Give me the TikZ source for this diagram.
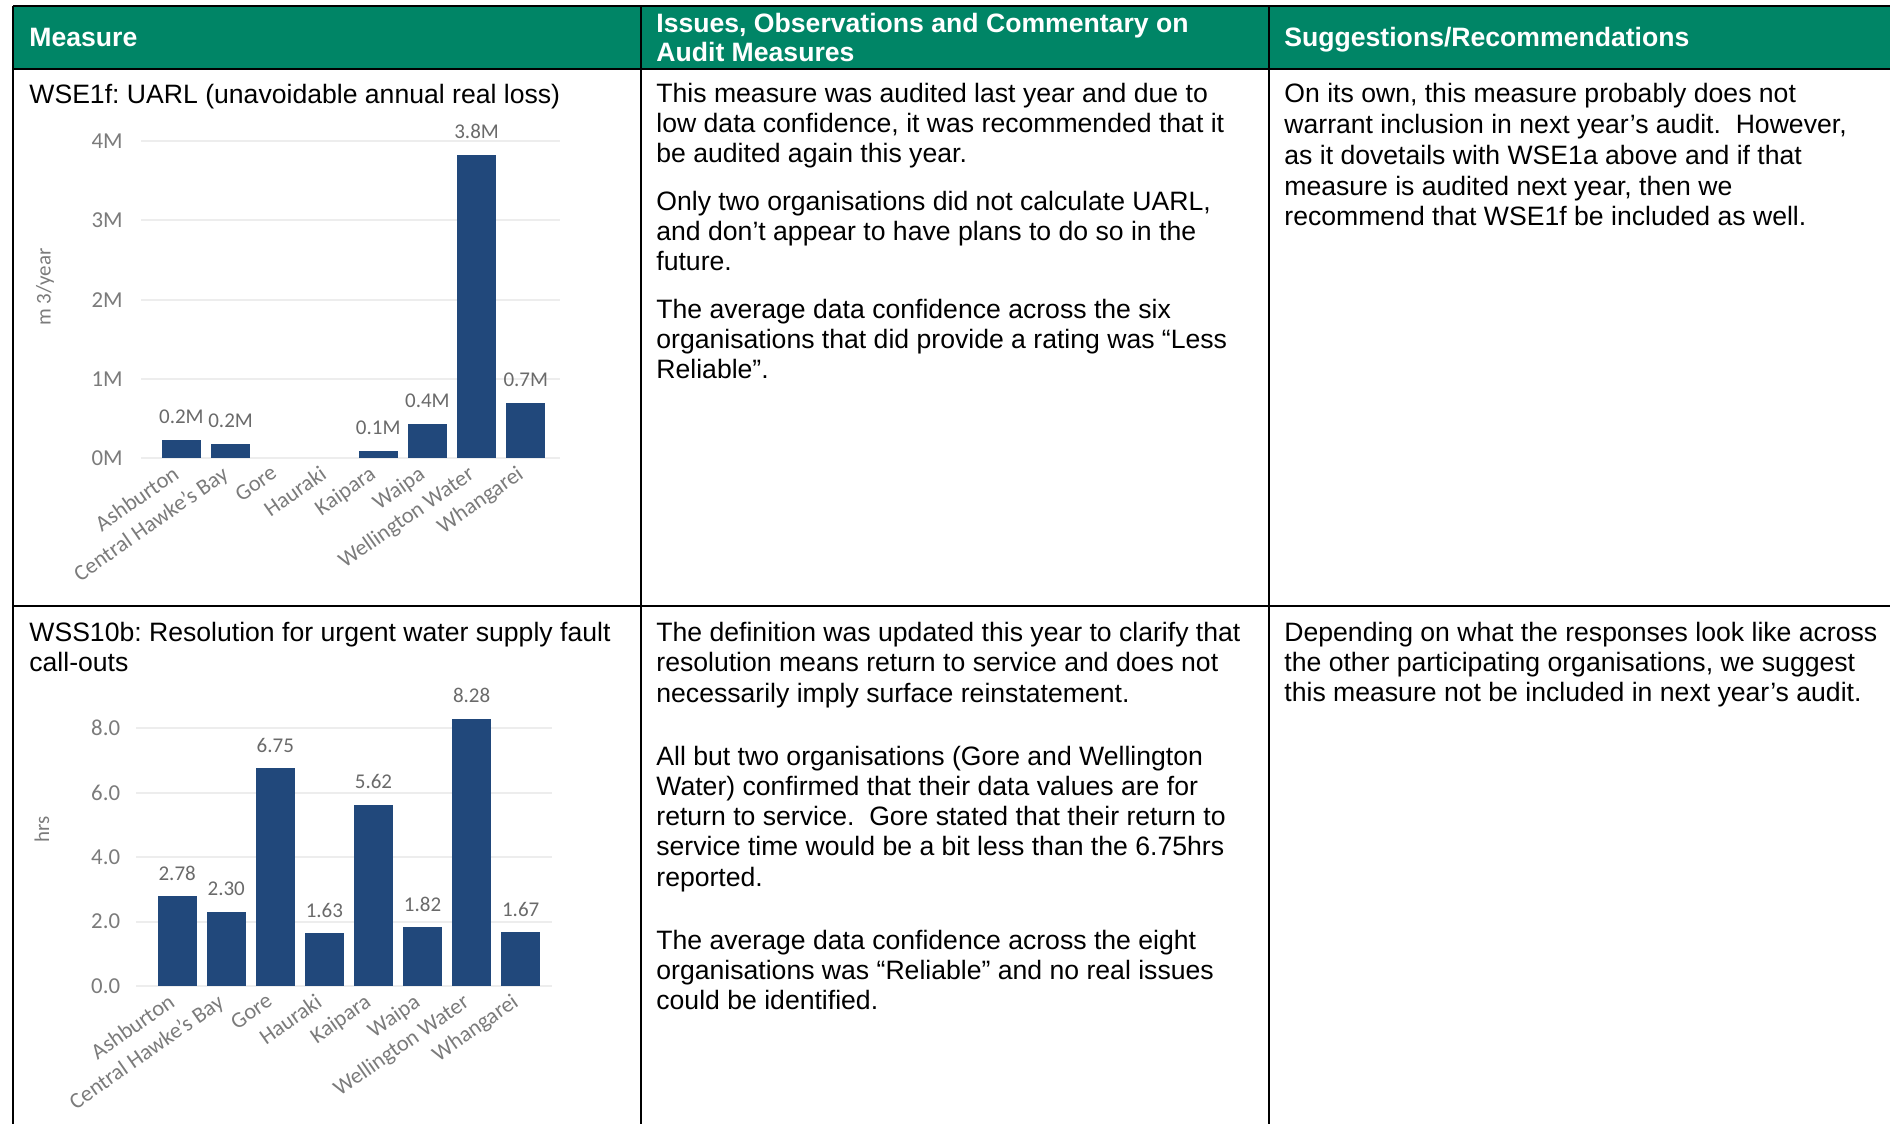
\documentclass[tikz,border=0pt]{standalone}
\usepackage{fontspec}
\setmainfont{Liberation Sans}
\newfontfamily\chartfont{Carlito}
\definecolor{headgreen}{HTML}{008566}
\definecolor{barblue}{HTML}{21487B}
\definecolor{gridgrey}{HTML}{EDEDED}
\definecolor{axisgrey}{HTML}{7B7B7B}
\definecolor{labgrey}{HTML}{6A6A6A}
\newcommand{\bodysize}{\fontsize{13.3}{15}\selectfont}
\newcommand{\topstrut}{\rule{0pt}{11pt}}
\frenchspacing
\tikzset{
  rule/.style={line width=1.2pt},
  headtext/.style={anchor=north west, align=left, inner sep=0pt, text=white,
    font=\bfseries\fontsize{13.3}{14.5}\selectfont, execute at begin node=\topstrut},
  celltext/.style={anchor=north west, align=left, inner sep=0pt,
    font=\bodysize, execute at begin node=\topstrut},
  bar/.style={fill=barblue},
  gridline/.style={draw=gridgrey, line width=1pt},
  ticklabel/.style={anchor=east, inner sep=0pt, text=axisgrey,
    font=\chartfont\fontsize{11.4}{12}\selectfont},
  valuelabel/.style={anchor=base, inner sep=0pt, text=labgrey,
    font=\chartfont\fontsize{10.5}{12}\selectfont},
  catlabel/.style={anchor=north east, rotate=35, inner sep=0pt, text=axisgrey,
    font=\chartfont\fontsize{11.2}{12}\selectfont},
  axistitle/.style={rotate=90, inner sep=0pt, text=axisgrey,
    font=\chartfont\fontsize{10.5}{12}\selectfont}
}
\begin{document}
\begin{tikzpicture}[x=0.5pt, y=-0.5pt]
\useasboundingbox (0,0) rectangle (1890,1124);
% table frame
\fill[headgreen] (13,6) rectangle (1890,69);
\draw[rule] (13,6) -- (1890,6);
\draw[rule] (13,69) -- (1890,69);
\draw[rule] (13,606) -- (1890,606);
\foreach \x in {13,641,1269}
    \draw[rule] (\x,6) -- (\x,1124);

\node[headtext] (hmeasure) at (29,24) {Measure};
\node[headtext] (hissues) at (656,13) {Issues, Observations and Commentary on\\Audit Measures};
\node[headtext] (hsuggest) at (1284,24) {Suggestions/Recommendations};

% row 1
\node[celltext] (uarltitle) at (29,81) {WSE1f: UARL (unavoidable annual real loss)};
\node[celltext] (uarlissues) at (656,83) {This measure was audited last year and due to\\
    low data confidence, it was recommended that it\\
    be audited again this year.\\[9pt]
    Only two organisations did not calculate UARL,\\
    and don’t appear to have plans to do so in the\\
    future.\\[9pt]
    The average data confidence across the six\\
    organisations that did provide a rating was “Less\\
    Reliable”.};
\node[celltext, font=\fontsize{13.3}{15.4}\selectfont] (uarlsuggest) at (1284,83) {On its own, this measure probably does not\\
    warrant inclusion in next year’s audit.\ \ However,\\
    as it dovetails with WSE1a above and if that\\
    measure is audited next year, then we\\
    recommend that WSE1f be included as well.};

% chart: UARL
\foreach \k in {0,...,4} {
    \draw[gridline] (141,{458-79.2*\k}) -- (560,{458-79.2*\k});
    \node[ticklabel] (uarltick\k) at (123,{458-79.2*\k}) {\k M};
}
\node[axistitle] (uarlaxis) at (45,287) {m 3/year};
\foreach \name/\val/\lab [count=\i from 0] in {Ashburton/0.23/0.2M, Central Hawke’s Bay/0.18/0.2M,
    Gore/0/{}, Hauraki/0/{}, Kaipara/0.09/0.1M, Waipa/0.43/0.4M,
    Wellington Water/3.83/3.8M, Whangarei/0.70/0.7M} {
    \pgfmathparse{\val>0 ? 1 : 0}
    \ifnum\pgfmathresult=1
        \fill[bar] ({181.4+49.2*\i-19.5},458) rectangle ++(39,{-79.2*\val});
    \fi
    \node[valuelabel] (uarlval\i) at ({181.4+49.2*\i},{458-79.2*\val-16}) {\lab};
    \node[catlabel] (uarlcat\i) at ({181.4+49.2*\i-10},464) {\name};
}

% row 2
\node[celltext] (wsstitle) at (29,622) {WSS10b: Resolution for urgent water supply fault\\call-outs};
\node[celltext, font=\fontsize{13.3}{15.1}\selectfont] (wssissues) at (656,622) {The definition was updated this year to clarify that\\
    resolution means return to service and does not\\
    necessarily imply surface reinstatement.\\[16.5pt]
    All but two organisations (Gore and Wellington\\
    Water) confirmed that their data values are for\\
    return to service.\ \ Gore stated that their return to\\
    service time would be a bit less than the 6.75hrs\\
    reported.\\[16.5pt]
    The average data confidence across the eight\\
    organisations was “Reliable” and no real issues\\
    could be identified.};
\node[celltext] (wsssuggest) at (1284,622) {Depending on what the responses look like across\\
    the other participating organisations, we suggest\\
    this measure not be included in next year’s audit.};

% chart: resolution hours
\foreach \k in {0,2,4,6,8} {
    \draw[gridline] (136,{986-32.25*\k}) -- (552,{986-32.25*\k});
    \node[ticklabel] (wsstick\k) at (120.5,{986-32.25*\k}) {\k.0};
}
\node[axistitle] (wssaxis) at (42,829) {hrs};
\foreach \name/\val [count=\i from 0] in {Ashburton/2.78, Central Hawke’s Bay/2.30,
    Gore/6.75, Hauraki/1.63, Kaipara/5.62, Waipa/1.82,
    Wellington Water/8.28, Whangarei/1.67} {
    \fill[bar] ({177.2+49.07*\i-19.3},986) rectangle ++(38.6,{-32.25*\val});
    \node[valuelabel] (wssval\i) at ({177.2+49.07*\i},{986-32.25*\val-16}) {\val};
    \node[catlabel] (wsscat\i) at ({177.2+49.07*\i-10},992) {\name};
}
\end{tikzpicture}
\end{document}
